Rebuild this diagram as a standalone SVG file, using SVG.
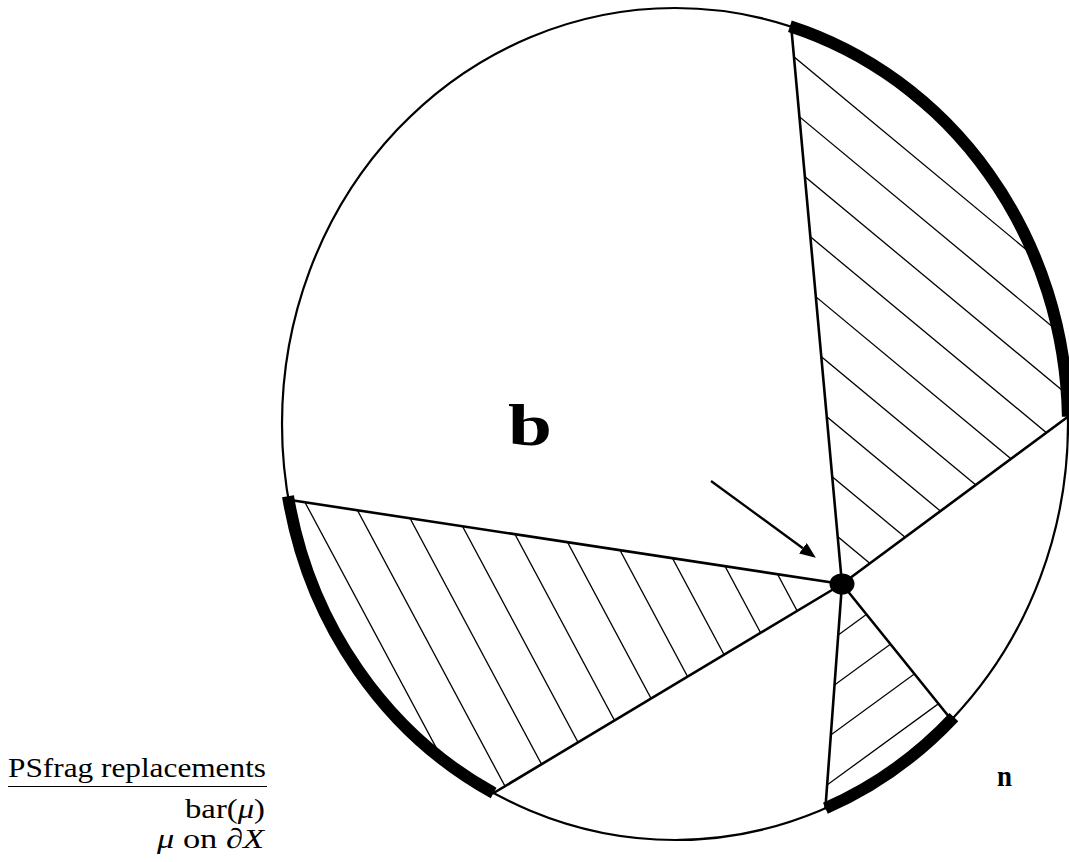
<svg xmlns="http://www.w3.org/2000/svg" width="1069" height="862" viewBox="0 0 1069 862">
<style>
.bg{fill:#fff}
.circ{fill:none;stroke:#000;stroke-width:2.2}
.chord{fill:none;stroke:#000;stroke-width:2.6;stroke-linecap:round}
.thick{fill:none;stroke:#000;stroke-width:12;stroke-linecap:butt}
.hatch{fill:none;stroke:#000;stroke-width:1.3}
.arrow{fill:none;stroke:#000;stroke-width:2.3}
.serif{font-family:"Liberation Serif","DejaVu Serif",serif;fill:#000}
</style>
<defs>
<clipPath id="clipA"><path d="M 842 584 L 791.2 26.6 A 393 416 0 0 1 1067.9 416.7 Z"/></clipPath>
<clipPath id="clipB"><path d="M 842 584 L 288.6 499.8 A 393 416 0 0 0 493.6 793.0 Z"/></clipPath>
<clipPath id="clipC"><path d="M 842 584 L 825.4 808.3 A 393 416 0 0 0 951.4 719.7 Z"/></clipPath>
<marker id="head" viewBox="0 0 16 13" refX="0" refY="6.5" markerWidth="16" markerHeight="13" markerUnits="userSpaceOnUse" orient="auto">
<path d="M0,0 L16,6.5 L0,13 Z" fill="#000"/>
</marker>
</defs>
<rect class="bg" x="0" y="0" width="1069" height="862"/>

<g id="hatch-a" clip-path="url(#clipA)" class="hatch">
<line x1="740" y1="-43.6" x2="1080" y2="238.6"/>
<line x1="740" y1="12.0" x2="1080" y2="294.2"/>
<line x1="740" y1="67.4" x2="1080" y2="349.6"/>
<line x1="740" y1="122.8" x2="1080" y2="405.0"/>
<line x1="740" y1="178.4" x2="1080" y2="460.5"/>
<line x1="740" y1="233.8" x2="1080" y2="516.0"/>
<line x1="740" y1="289.2" x2="1080" y2="571.4"/>
<line x1="740" y1="344.7" x2="1080" y2="626.9"/>
<line x1="740" y1="400.2" x2="1080" y2="682.4"/>
<line x1="740" y1="455.6" x2="1080" y2="737.8"/>
</g>
<g id="hatch-b" clip-path="url(#clipB)" class="hatch">
<line x1="287.7" y1="470" x2="490.9" y2="850"/>
<line x1="335.9" y1="470" x2="539.1" y2="850"/>
<line x1="384.2" y1="470" x2="587.4" y2="850"/>
<line x1="432.4" y1="470" x2="635.6" y2="850"/>
<line x1="480.6" y1="470" x2="683.8" y2="850"/>
<line x1="528.9" y1="470" x2="732.1" y2="850"/>
<line x1="577.1" y1="470" x2="780.3" y2="850"/>
<line x1="625.3" y1="470" x2="828.5" y2="850"/>
<line x1="673.6" y1="470" x2="876.7" y2="850"/>
<line x1="721.8" y1="470" x2="925.0" y2="850"/>
</g>
<g id="hatch-c" clip-path="url(#clipC)" class="hatch">
<line x1="818.2" y1="649.6" x2="998.2" y2="518.2"/>
<line x1="814.5" y1="699.6" x2="994.5" y2="568.2"/>
<line x1="810.8" y1="749.6" x2="990.8" y2="618.2"/>
<line x1="807.1" y1="799.6" x2="987.1" y2="668.2"/>
</g>

<g id="circle">
<ellipse class="circ" cx="675" cy="424" rx="393" ry="416"/>
</g>

<g id="connectors">
<line class="chord" x1="842" y1="584" x2="791.2" y2="26.6"/>
<line class="chord" x1="842" y1="584" x2="1067.9" y2="416.7"/>
<line class="chord" x1="842" y1="584" x2="951.4" y2="719.7"/>
<line class="chord" x1="842" y1="584" x2="825.4" y2="808.3"/>
<line class="chord" x1="842" y1="584" x2="493.6" y2="793.0"/>
<line class="chord" x1="842" y1="584" x2="288.6" y2="499.8"/>
<line class="arrow" x1="711" y1="481" x2="802.9" y2="548.2" marker-end="url(#head)"/>
</g>

<g id="boundary-arcs">
<path class="thick" d="M 789.9 26.2 A 393 416 0 0 1 1067.9 416.7"/>
<path class="thick" d="M 288.0 496.2 A 393 416 0 0 0 493.6 793.0"/>
<path class="thick" d="M 825.4 808.3 A 393 416 0 0 0 953.9 717.1"/>
</g>

<g id="node-point">
<ellipse cx="842" cy="584" rx="12.5" ry="10.5" fill="#000"/>
</g>

<g id="label-b">
<text class="serif" x="508" y="445" font-size="60" font-weight="bold" textLength="44" lengthAdjust="spacingAndGlyphs">b</text>
</g>
<g id="label-n">
<text class="serif" x="997" y="786" font-size="29" font-weight="bold" textLength="15" lengthAdjust="spacingAndGlyphs">n</text>
</g>

<g id="psfrag">
<text class="serif" x="8" y="777" font-size="28" textLength="258" lengthAdjust="spacingAndGlyphs">PSfrag replacements</text>
<line x1="8" y1="786.5" x2="267" y2="786.5" stroke="#000" stroke-width="1.2"/>
<text class="serif" x="265" y="818" font-size="28" text-anchor="end" textLength="80" lengthAdjust="spacingAndGlyphs">bar(<tspan font-style="italic">μ</tspan>)</text>
<text class="serif" x="264" y="848" font-size="28" text-anchor="end" textLength="107" lengthAdjust="spacingAndGlyphs"><tspan font-style="italic">μ</tspan> on ∂<tspan font-style="italic">X</tspan></text>
</g>
</svg>
